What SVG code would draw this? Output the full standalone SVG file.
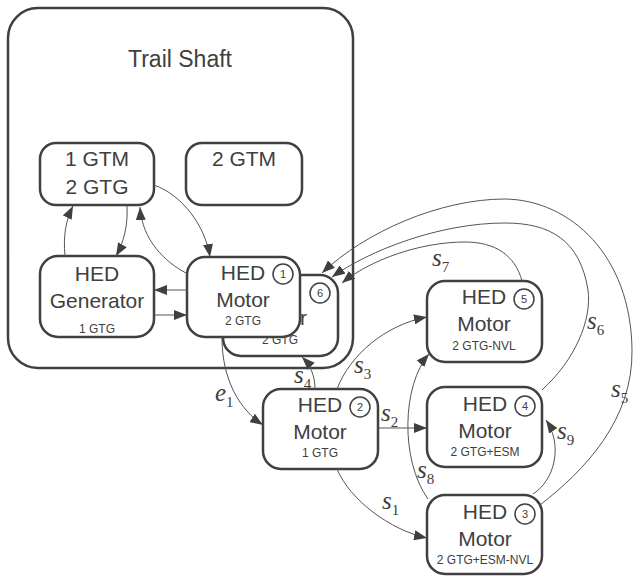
<svg xmlns="http://www.w3.org/2000/svg" width="635" height="577" viewBox="0 0 635 577">
<style>
.box{fill:#fff;stroke:#404040;stroke-width:2.5}
.t{font-family:"Liberation Sans",Arial,sans-serif;font-size:21px;fill:#404040;text-anchor:middle}
.ts{font-family:"Liberation Sans",Arial,sans-serif;font-size:12px;fill:#404040;text-anchor:middle}
.title{font-family:"Liberation Sans",Arial,sans-serif;font-size:23px;fill:#404040;text-anchor:middle}
.num{fill:#fff;stroke:#404040;stroke-width:1.5}
.nt{font-family:"Liberation Sans",Arial,sans-serif;font-size:11px;fill:#404040;text-anchor:middle}
.c{fill:none;stroke:#555;stroke-width:1;marker-end:url(#ah)}
.lbl{font-family:"Liberation Serif","Times New Roman",serif;font-style:italic;font-size:25px;fill:#404040}
.sub{font-size:15px;font-style:normal}
</style>
<defs>
<marker id="ah" markerUnits="userSpaceOnUse" markerWidth="13" markerHeight="10" refX="13" refY="5" orient="auto">
<path d="M0,0 L13,5 L0,10 z" fill="#404040"/>
</marker>
</defs>
<rect width="635" height="577" fill="#fff"/>
<g id="trail-shaft">
<rect class="box" x="8" y="8" width="345" height="360" rx="30"/>
<text class="title" x="180" y="67">Trail Shaft</text>
</g>
<g id="n-1gtm">
<rect class="box" x="40" y="143" width="114" height="62" rx="16"/>
<text class="t" x="97" y="166">1 GTM</text>
<text class="t" x="97" y="194">2 GTG</text>
</g>
<g id="n-2gtm">
<rect class="box" x="186" y="143" width="116" height="62" rx="16"/>
<text class="t" x="244" y="166">2 GTM</text>
</g>
<g id="n-gen">
<rect class="box" x="40" y="256" width="114" height="81" rx="18"/>
<text class="t" x="97" y="281">HED</text>
<text class="t" x="97" y="308">Generator</text>
<text class="ts" x="97" y="333">1 GTG</text>
</g>
<g id="n-motor6">
<rect class="box" x="223" y="275" width="115" height="81" rx="18"/>
<text class="t" x="307" y="325" text-anchor="end" style="text-anchor:end">r</text>
<text class="ts" x="280" y="344">2 GTG</text>
<circle class="num" cx="320" cy="293" r="10"/>
<text class="nt" x="320" y="297">6</text>
</g>
<g id="n-motor1">
<rect class="box" x="187" y="257" width="113" height="80" rx="18"/>
<text class="t" x="243" y="280">HED</text>
<text class="t" x="243" y="307">Motor</text>
<text class="ts" x="243" y="325">2 GTG</text>
<circle class="num" cx="283" cy="274" r="10"/>
<text class="nt" x="283" y="278">1</text>
</g>
<g id="n-motor2">
<rect class="box" x="263" y="389" width="115" height="80" rx="18"/>
<text class="t" x="320" y="412">HED</text>
<text class="t" x="320" y="439">Motor</text>
<text class="ts" x="320" y="457">1 GTG</text>
<circle class="num" cx="360" cy="407" r="10"/>
<text class="nt" x="360" y="411">2</text>
</g>
<g id="n-motor5">
<rect class="box" x="427" y="281" width="115" height="81" rx="18"/>
<text class="t" x="484" y="304">HED</text>
<text class="t" x="484" y="331">Motor</text>
<text class="ts" x="484" y="350">2 GTG-NVL</text>
<circle class="num" cx="524" cy="299" r="10"/>
<text class="nt" x="524" y="303">5</text>
</g>
<g id="n-motor4">
<rect class="box" x="427" y="387" width="115" height="80" rx="18"/>
<text class="t" x="485" y="411">HED</text>
<text class="t" x="485" y="438">Motor</text>
<text class="ts" x="485" y="456">2 GTG+ESM</text>
<circle class="num" cx="525" cy="406" r="10"/>
<text class="nt" x="525" y="410">4</text>
</g>
<g id="n-motor3">
<rect class="box" x="427" y="495" width="115" height="79" rx="18"/>
<text class="t" x="485" y="519">HED</text>
<text class="t" x="485" y="546">Motor</text>
<text class="ts" x="485" y="564">2 GTG+ESM-NVL</text>
<circle class="num" cx="525" cy="514" r="10"/>
<text class="nt" x="525" y="518">3</text>
</g>
<g id="connectors">
<path class="c" d="M154,185 C182,195 205,225 210,257"/>
<path class="c" d="M186,273 C165,262 142,240 140,207"/>
<path class="c" d="M127,206 C128,225 124,242 116,256"/>
<path class="c" d="M65,256 C63,235 66,220 73,206"/>
<path class="c" d="M187,290 L154,290"/>
<path class="c" d="M154,315 L187,315"/>
<path class="c" d="M222,338 C222,380 240,410 263,425"/>
<path class="c" d="M315,389 C315,375 310,365 302,357"/>
<path class="c" d="M337,389 C350,355 385,325 427,317"/>
<path class="c" d="M378,428 L427,428"/>
<path class="c" d="M337,469 C350,500 390,530 427,538"/>
<path class="c" d="M428,499 C400,460 402,385 429,354"/>
<path class="c" d="M533,494 C555,480 563,445 546,420"/>
<path class="c" d="M540,505 C585,470 633,420 632,350 C631,255 570,200 505,199 C440,199 365,232 322,273"/>
<path class="c" d="M542,390 C575,360 592,320 588,290 C580,240 550,223 505,223 C440,223 370,250 332,277"/>
<path class="c" d="M522,281 C515,255 495,242 465,242 C420,242 370,260 342,283"/>
</g>
<g id="labels">
<text class="lbl" x="215" y="401">e<tspan class="sub" dy="6">1</tspan></text>
<text class="lbl" x="294" y="383">s<tspan class="sub" dy="6">4</tspan></text>
<text class="lbl" x="354" y="373">s<tspan class="sub" dy="6">3</tspan></text>
<text class="lbl" x="381" y="421">s<tspan class="sub" dy="6">2</tspan></text>
<text class="lbl" x="382" y="509">s<tspan class="sub" dy="6">1</tspan></text>
<text class="lbl" x="417" y="478">s<tspan class="sub" dy="6">8</tspan></text>
<text class="lbl" x="557" y="439">s<tspan class="sub" dy="6">9</tspan></text>
<text class="lbl" x="432" y="266">s<tspan class="sub" dy="6">7</tspan></text>
<text class="lbl" x="587" y="329">s<tspan class="sub" dy="6">6</tspan></text>
<text class="lbl" x="611" y="397">s<tspan class="sub" dy="6">5</tspan></text>
</g>
</svg>
